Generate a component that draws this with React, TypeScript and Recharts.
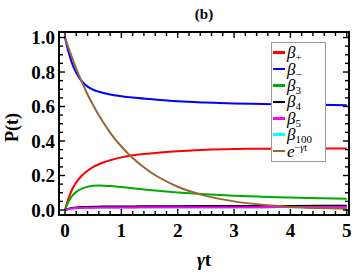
import { LineChart, Line, XAxis, YAxis, Label } from 'recharts';

// time grid (gamma * t) and the curves
const T = [0, 0.05, 0.1, 0.15, 0.2, 0.3, 0.4, 0.5, 0.6, 0.7, 0.8, 1.0, 1.2, 1.5, 2.0, 2.5, 3.0, 3.5, 4.0, 4.5, 5.0];
const BETA_PLUS = [0, 0.055, 0.1, 0.135, 0.16, 0.2, 0.228, 0.25, 0.265, 0.278, 0.288, 0.305, 0.317, 0.328, 0.341, 0.349, 0.353, 0.355, 0.356, 0.357, 0.357];
const BETA_MINUS = [1.0, 0.93, 0.875, 0.83, 0.795, 0.745, 0.715, 0.697, 0.686, 0.677, 0.67, 0.66, 0.652, 0.643, 0.63, 0.623, 0.618, 0.615, 0.612, 0.61, 0.608];
const BETA_3 = [0, 0.04, 0.07, 0.09, 0.105, 0.124, 0.135, 0.14, 0.142, 0.141, 0.139, 0.133, 0.126, 0.116, 0.102, 0.091, 0.083, 0.077, 0.072, 0.068, 0.065];
const BETA_4 = [0, 0.006, 0.01, 0.013, 0.015, 0.017, 0.018, 0.019, 0.0195, 0.02, 0.02, 0.0205, 0.021, 0.0215, 0.022, 0.0225, 0.023, 0.023, 0.0235, 0.024, 0.024];
const BETA_5 = [0, 0.005, 0.008, 0.01, 0.011, 0.012, 0.013, 0.0135, 0.014, 0.014, 0.0145, 0.015, 0.015, 0.0155, 0.016, 0.016, 0.0165, 0.0165, 0.017, 0.017, 0.017];
const BETA_100 = [0, 0.004, 0.007, 0.009, 0.01, 0.011, 0.012, 0.012, 0.013, 0.013, 0.013, 0.014, 0.014, 0.014, 0.015, 0.015, 0.015, 0.015, 0.016, 0.016, 0.016];
const EXP_DECAY = [1, 0.951, 0.905, 0.861, 0.819, 0.741, 0.67, 0.607, 0.549, 0.497, 0.449, 0.368, 0.301, 0.223, 0.135, 0.082, 0.05, 0.03, 0.018, 0.011, 0.007];

const X_MAJOR = [0, 1, 2, 3, 4, 5];
const X_TICKS = [0, 0.2, 0.4, 0.6, 0.8, 1, 1.2, 1.4, 1.6, 1.8, 2, 2.2, 2.4, 2.6, 2.8, 3, 3.2, 3.4, 3.6, 3.8, 4, 4.2, 4.4, 4.6, 4.8, 5];
const Y_MAJOR = [0, 0.2, 0.4, 0.6, 0.8, 1];
const Y_TICKS = [0, 0.05, 0.1, 0.15, 0.2, 0.25, 0.3, 0.35, 0.4, 0.45, 0.5, 0.55, 0.6, 0.65, 0.7, 0.75, 0.8, 0.85, 0.9, 0.95, 1];

const LEGEND_BASE = ['β', 'β', 'β', 'β', 'β', 'β', 'e'];
const LEGEND_SUB = ['+', '−', '3', '4', '5', '100', ''];
const LEGEND_SUP = ['', '', '', '', '', '', '−γt'];
const COLORS = ['#ff0000', '#0000ff', '#00aa00', '#000000', '#ff00ff', '#00ffff', '#996633'];

const X_DOMAIN = [-0.107, 5.04];
const Y_DOMAIN = [-0.029, 1.032];

const rows = T.map((t, i) => ({
  t,
  bp: BETA_PLUS[i],
  bm: BETA_MINUS[i],
  b3: BETA_3[i],
  b4: BETA_4[i],
  b5: BETA_5[i],
  b100: BETA_100[i],
  ex: EXP_DECAY[i],
}));

const W = 360;
const H = 277;
const MARGIN = { top: 32, right: 11, bottom: 6, left: 9 };
const X_AXIS_H = 56;
const Y_AXIS_W = 50;
const X_TICK_MARGIN = 9;
const Y_TICK_MARGIN = 4;

// plot box, from the chart margins and axis sizes
const PLOT_LEFT = MARGIN.left + Y_AXIS_W;
const PLOT_TOP = MARGIN.top;
const PLOT_RIGHT = W - MARGIN.right;
const PLOT_BOTTOM = H - MARGIN.bottom - X_AXIS_H;

const serif = '"Liberation Serif", "Times New Roman", serif';

// bottom axis tick: inward marks on bottom and top edges, label only on majors
const XTick = (props: any) => {
  const { x, y, payload } = props;
  const v = payload.value;
  const major = X_MAJOR.includes(v);
  const len = major ? 6 : 4;
  const px = Number(x);
  return (
    <g>
      <rect x={px - 0.7} y={PLOT_BOTTOM - len} width={1.4} height={len} fill="#000" />
      <rect x={px - 0.7} y={PLOT_TOP} width={1.4} height={len} fill="#000" />
      {major && (
        <text x={x} y={y} dy="0.71em" textAnchor="middle"
          fontFamily={serif} fontWeight={700} fontSize={19} fill="#000">
          {v}
        </text>
      )}
    </g>
  );
};

// left axis tick: inward marks on left and right edges
const YTick = (props: any) => {
  const { x, y, payload } = props;
  const v = payload.value;
  const major = Y_MAJOR.includes(v);
  const len = major ? 6 : 4;
  const py = Number(y);
  return (
    <g>
      <rect x={PLOT_LEFT} y={py - 0.7} width={len} height={1.4} fill="#000" />
      <rect x={PLOT_RIGHT - len} y={py - 0.7} width={len} height={1.4} fill="#000" />
      {major && (
        <text x={x} y={y} dy="0.355em" textAnchor="end"
          fontFamily={serif} fontWeight={700} fontSize={19} fill="#000">
          {v.toFixed(1)}
        </text>
      )}
    </g>
  );
};

const XTitle = (props: any) => {
  const vb = props.viewBox;
  return (
    <text x={vb.x + vb.width / 2} y={vb.y + vb.height - 5} textAnchor="middle"
      fontFamily={serif} fontWeight={700} fontSize={19} fill="#000">
      <tspan fontStyle="italic">γ</tspan><tspan>t</tspan>
    </text>
  );
};

const YTitle = (props: any) => {
  const vb = props.viewBox;
  const cx = vb.x + 3;
  const cy = vb.y + vb.height / 2 + 4;
  return (
    <text x={cx} y={cy} transform={`rotate(-90, ${cx}, ${cy})`} textAnchor="middle" dominantBaseline="central"
      fontFamily={serif} fontWeight={700} fontSize={18} fill="#000">
      P(t)
    </text>
  );
};

function Frame() {
  return (
    <div style={{
      position: 'absolute', left: PLOT_LEFT - 1, top: PLOT_TOP - 1,
      width: PLOT_RIGHT - PLOT_LEFT + 2, height: PLOT_BOTTOM - PLOT_TOP + 2,
      border: '2px solid #000', boxSizing: 'border-box', pointerEvents: 'none',
    }} />
  );
}

function Title() {
  return (
    <div style={{
      position: 'absolute', left: PLOT_LEFT, width: PLOT_RIGHT - PLOT_LEFT, top: 5, textAlign: 'center',
      fontFamily: serif, fontWeight: 700, fontSize: 15, lineHeight: '18px', color: '#000',
    }}>
      (b)
    </div>
  );
}

function LegendBox() {
  return (
    <div style={{
      position: 'absolute', left: 271, top: 42, width: 55, height: 120,
      border: '1px solid #9a9a9a', background: '#fff', boxSizing: 'border-box',
    }}>
      {LEGEND_BASE.map((b, i) => (
        <div key={i} style={{
          position: 'absolute', left: 0, top: 1.5 + i * 16.4, height: 16.4,
          display: 'flex', alignItems: 'center', whiteSpace: 'nowrap',
        }}>
          <span style={{ display: 'inline-block', width: 12, height: 2.5, background: COLORS[i], marginLeft: 1, marginRight: 2 }} />
          <span style={{ fontFamily: serif, fontStyle: 'italic', fontSize: 17, lineHeight: '15px', color: '#000' }}>
            {b}
            {LEGEND_SUB[i] && (
              <sub style={{ fontStyle: 'normal', fontSize: 11, verticalAlign: '-3px', lineHeight: 0 }}>
                {LEGEND_SUB[i]}
              </sub>
            )}
            {LEGEND_SUP[i] && (
              <sup style={{ fontSize: 10, verticalAlign: '6px', fontStyle: 'normal', lineHeight: 0 }}>
                −<i>γ</i>t
              </sup>
            )}
          </span>
        </div>
      ))}
    </div>
  );
}

export default function App() {
  return (
    <div style={{ position: 'absolute', left: 0, top: 0, width: W, height: H, background: '#fff' }}>
      <LineChart width={W} height={H} data={rows} margin={MARGIN}>
        <XAxis xAxisId="x" dataKey="t" type="number" domain={X_DOMAIN} allowDataOverflow ticks={X_TICKS}
          interval={0} height={X_AXIS_H} tickSize={0} tickMargin={X_TICK_MARGIN} tickLine={false} axisLine={false}
          tick={XTick}>
          <Label content={XTitle} />
        </XAxis>
        <YAxis yAxisId="y" type="number" domain={Y_DOMAIN} allowDataOverflow ticks={Y_TICKS} interval={0}
          width={Y_AXIS_W} tickSize={0} tickMargin={Y_TICK_MARGIN} tickLine={false} axisLine={false}
          tick={YTick}>
          <Label content={YTitle} />
        </YAxis>

        <Line xAxisId="x" yAxisId="y" dataKey="bp" type="monotone" stroke={COLORS[0]} strokeWidth={2} dot={false} isAnimationActive={false} />
        <Line xAxisId="x" yAxisId="y" dataKey="bm" type="monotone" stroke={COLORS[1]} strokeWidth={2} dot={false} isAnimationActive={false} />
        <Line xAxisId="x" yAxisId="y" dataKey="b3" type="monotone" stroke={COLORS[2]} strokeWidth={2} dot={false} isAnimationActive={false} />
        <Line xAxisId="x" yAxisId="y" dataKey="b100" type="monotone" stroke={COLORS[5]} strokeWidth={2} dot={false} isAnimationActive={false} />
        <Line xAxisId="x" yAxisId="y" dataKey="b4" type="monotone" stroke={COLORS[3]} strokeWidth={2} dot={false} isAnimationActive={false} />
        <Line xAxisId="x" yAxisId="y" dataKey="b5" type="monotone" stroke={COLORS[4]} strokeWidth={2} dot={false} isAnimationActive={false} />
        <Line xAxisId="x" yAxisId="y" dataKey="ex" type="monotone" stroke={COLORS[6]} strokeWidth={2} dot={false} isAnimationActive={false} />
      </LineChart>
      <Frame />
      <Title />
      <LegendBox />
    </div>
  );
}
